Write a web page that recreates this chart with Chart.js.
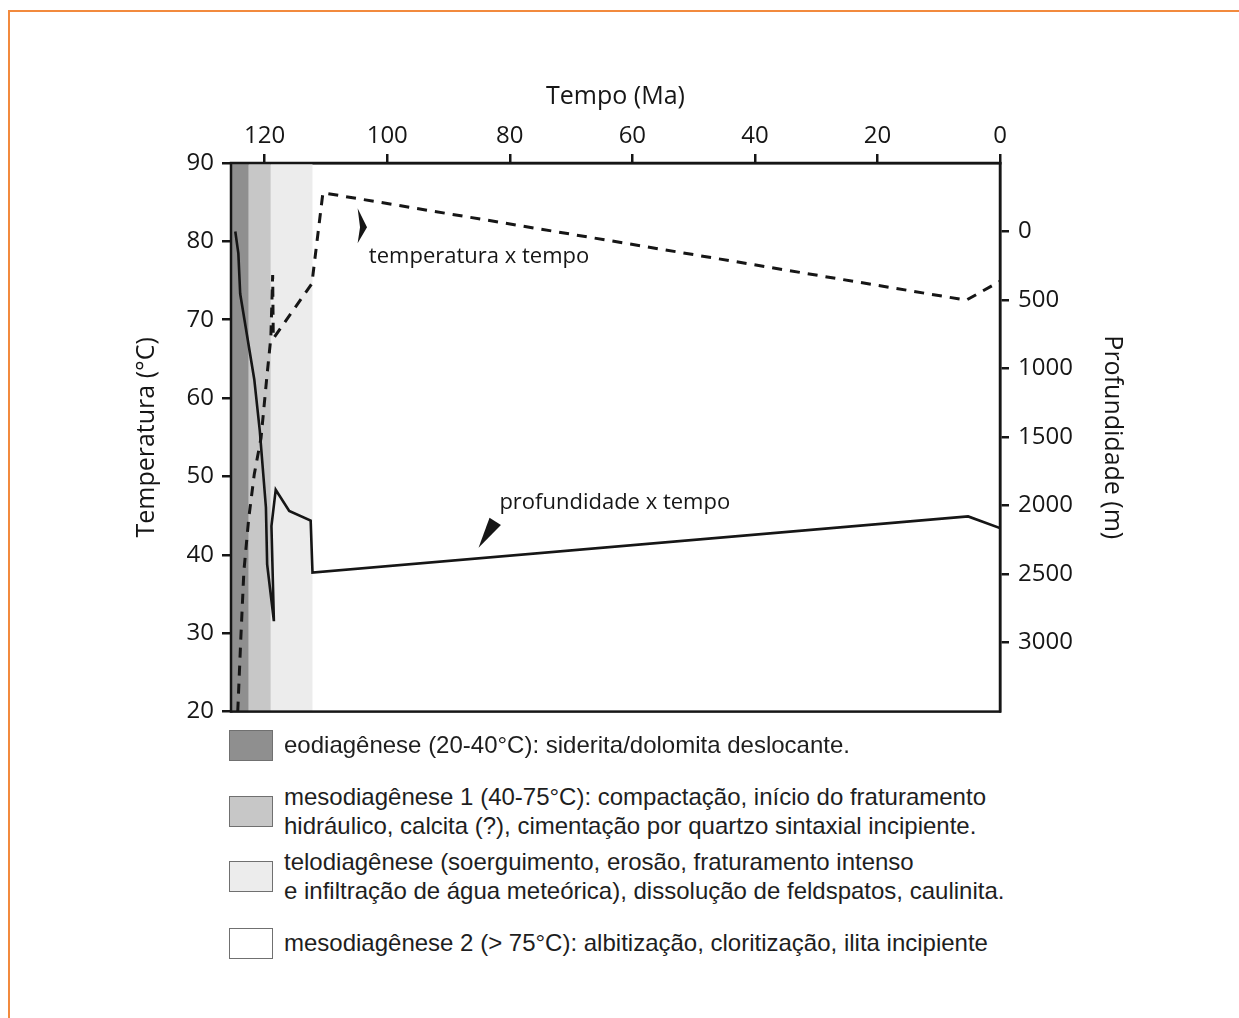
<!DOCTYPE html>
<html>
<head>
<meta charset="utf-8">
<script src="https://cdn.jsdelivr.net/npm/chart.js@4.4.1/dist/chart.umd.min.js"></script>
<style>
  html, body { margin: 0; padding: 0; background: #fff; }
  body { width: 1239px; height: 1018px; position: relative; overflow: hidden; }
  .frame { position: absolute; left: 8px; top: 10px; right: 0; bottom: 0;
           border-top: 2px solid #f28a3d; border-left: 2px solid #f28a3d; }
  #chart { position: absolute; left: 0; top: 0; }
  .legend { position: absolute; left: 229px; top: 728px; font-family: "Liberation Sans", Arial, sans-serif;
            font-size: 24px; color: #1e1e1e; }
  .item { position: absolute; left: 0; white-space: nowrap; }
  .box { position: absolute; left: 0; width: 42px; height: 29px; border: 1.5px solid #707070; }
  .txt { position: absolute; left: 55px; line-height: 29px; }
</style>
</head>
<body>
<div class="frame"></div>
<canvas id="chart" width="1239" height="735"></canvas>
<div class="legend" id="legend"></div>

<script>
// axis ticks
const timeTicks = [120, 100, 80, 60, 40, 20, 0];
const depthTicks = [0, 500, 1000, 1500, 2000, 2500, 3000];

// depth x time (solid line, right axis, m)
const depthTime   = [124.8, 124.3, 124.0, 121.7, 120.8, 119.8, 119.6, 118.5, 118.9, 118.2, 116.0, 112.5, 112.2, 5.2, 0];
const depthValues = [0, 160, 455, 1080, 1455, 2015, 2430, 2845, 2150, 1885, 2040, 2110, 2490, 2080, 2165];

// temperature x time (dashed line, left axis, °C)
const tempTime   = [124.4, 123.9, 123.4, 122.6, 121.7, 120.6, 119.6, 119.0, 118.7, 118.6, 112.3, 110.5, 5.5, 0];
const tempValues = [20, 29.3, 37.9, 44.7, 50.3, 54.9, 63.1, 67.7, 75.7, 67.6, 74.6, 86.2, 72.5, 74.9];

// diagenesis stages (time span in Ma)
const stageNames = [
    "eodiagênese (20-40°C): siderita/dolomita deslocante.",
    "mesodiagênese 1 (40-75°C): compactação, início do fraturamento\nhidráulico, calcita (?), cimentação por quartzo sintaxial incipiente.",
    "telodiagênese (soerguimento, erosão, fraturamento intenso\ne infiltração de água meteórica), dissolução de feldspatos, caulinita.",
    "mesodiagênese 2 (> 75°C): albitização, cloritização, ilita incipiente"
];
const stageStart = [125.5, 122.6, 119.0];
const stageEnd   = [122.6, 119.0, 112.2];
const stageColors = ["#8f8f8f", "#c7c7c7", "#ececec", "#ffffff"];

const tickFont = { family: "'Open Sans', 'Noto Sans', sans-serif", size: 24 };
const titleFont = { family: "'Open Sans', 'Noto Sans', sans-serif", size: 25 };
const ink = "#161616";

// background bands for the diagenesis stages
const bandsPlugin = {
    id: "bands",
    beforeDatasetsDraw(chart) {
        const { ctx, chartArea, scales } = chart;
        ctx.save();
        stageStart.forEach((s, i) => {
            const x1 = scales.x.getPixelForValue(s);
            const x2 = scales.x.getPixelForValue(stageEnd[i]);
            ctx.fillStyle = stageColors[i];
            ctx.fillRect(x1, chartArea.top, x2 - x1, chartArea.bottom - chartArea.top);
        });
        ctx.restore();
    }
};

// labels with small arrow heads
const notes = [
    { text: "temperatura x tempo", t: 103.0, v: 78.1, at: 103.3, av: 81.8, shape: [[0, 0], [-9.4, -19], [-7, 0], [-9.4, 16]] },
    { text: "profundidade x tempo", t: 81.7, v: 46.7, at: 85.1, av: 40.9, shape: [[0, 0], [11, -30], [22.4, -22.7]] }
];

const notesPlugin = {
    id: "notes",
    afterDatasetsDraw(chart) {
        const { ctx, scales } = chart;
        ctx.save();
        ctx.fillStyle = ink;
        ctx.font = "22px 'Open Sans', sans-serif";
        ctx.textBaseline = "middle";
        notes.forEach(n => {
            ctx.fillText(n.text, scales.x.getPixelForValue(n.t), scales.y.getPixelForValue(n.v));
            const ax = scales.x.getPixelForValue(n.at);
            const ay = scales.y.getPixelForValue(n.av);
            ctx.beginPath();
            n.shape.forEach((p, i) => i ? ctx.lineTo(ax + p[0], ay + p[1]) : ctx.moveTo(ax + p[0], ay + p[1]));
            ctx.closePath();
            ctx.fill();
        });
        ctx.restore();
    },
    afterDraw(chart) {
        const { ctx, chartArea } = chart;
        ctx.save();
        ctx.strokeStyle = ink;
        ctx.lineWidth = 2.5;
        ctx.strokeRect(chartArea.left, chartArea.top, chartArea.right - chartArea.left, chartArea.bottom - chartArea.top);
        ctx.restore();
    }
};

const gridOpts = { drawOnChartArea: false, drawTicks: true, tickLength: 9, color: ink, lineWidth: 2.5 };
const borderOpts = { display: true, color: ink, width: 2.5 };

new Chart(document.getElementById("chart"), {
    type: "line",
    data: {
        datasets: [
            {
                label: "profundidade x tempo",
                data: depthTime.map((t, i) => ({ x: t, y: depthValues[i] })),
                yAxisID: "y2",
                borderColor: ink,
                borderWidth: 2.6,
                pointRadius: 0,
                tension: 0
            },
            {
                label: "temperatura x tempo",
                data: tempTime.map((t, i) => ({ x: t, y: tempValues[i] })),
                yAxisID: "y",
                borderColor: ink,
                borderWidth: 3,
                borderDash: [10, 8],
                pointRadius: 0,
                tension: 0
            }
        ]
    },
    options: {
        responsive: false,
        animation: false,
        layout: { autoPadding: false, padding: { left: 130, right: 100, top: 70, bottom: 5 } },
        plugins: {
            legend: { display: false },
            tooltip: { enabled: false }
        },
        scales: {
            x: {
                type: "linear",
                position: "top",
                reverse: true,
                min: 0,
                max: 125.5,
                afterBuildTicks: s => { s.ticks = timeTicks.map(v => ({ value: v })); },
                afterFit: s => { s.height = 93; },
                ticks: { font: tickFont, color: ink, padding: 3, maxRotation: 0 },
                grid: gridOpts,
                border: borderOpts,
                title: { display: true, text: "Tempo (Ma)", font: titleFont, color: ink, padding: { top: 12 } }
            },
            y: {
                position: "left",
                min: 20,
                max: 90,
                ticks: { stepSize: 10, font: tickFont, color: ink, padding: 8 },
                afterFit: s => { s.width = 101; },
                grid: gridOpts,
                border: borderOpts,
                title: { display: true, text: "Temperatura (°C)", font: titleFont, color: ink, padding: { top: 2 } }
            },
            y2: {
                position: "right",
                reverse: true,
                min: -500,
                max: 3505,
                afterBuildTicks: s => { s.ticks = depthTicks.map(v => ({ value: v })); },
                ticks: { font: tickFont, color: ink, padding: 9, callback: v => String(v) },
                afterFit: s => { s.width = 139; },
                grid: gridOpts,
                border: borderOpts,
                title: { display: true, text: "Profundidade (m)", font: titleFont, color: ink, padding: { top: 12 } }
            }
        }
    },
    plugins: [bandsPlugin, notesPlugin]
});

// legend for the stages
const legendTops = [2, 68, 133, 200];
const legend = document.getElementById("legend");
stageNames.forEach((name, i) => {
    const item = document.createElement("div");
    item.className = "item";
    item.style.top = legendTops[i] + "px";
    const lines = name.split("\n");
    const box = document.createElement("div");
    box.className = "box";
    box.style.background = stageColors[i];
    const txt = document.createElement("div");
    txt.className = "txt";
    txt.style.top = (lines.length > 1 ? -14 : 0) + "px";
    txt.innerHTML = lines.join("<br>");
    item.appendChild(box);
    item.appendChild(txt);
    legend.appendChild(item);
});
</script>
</body>
</html>
